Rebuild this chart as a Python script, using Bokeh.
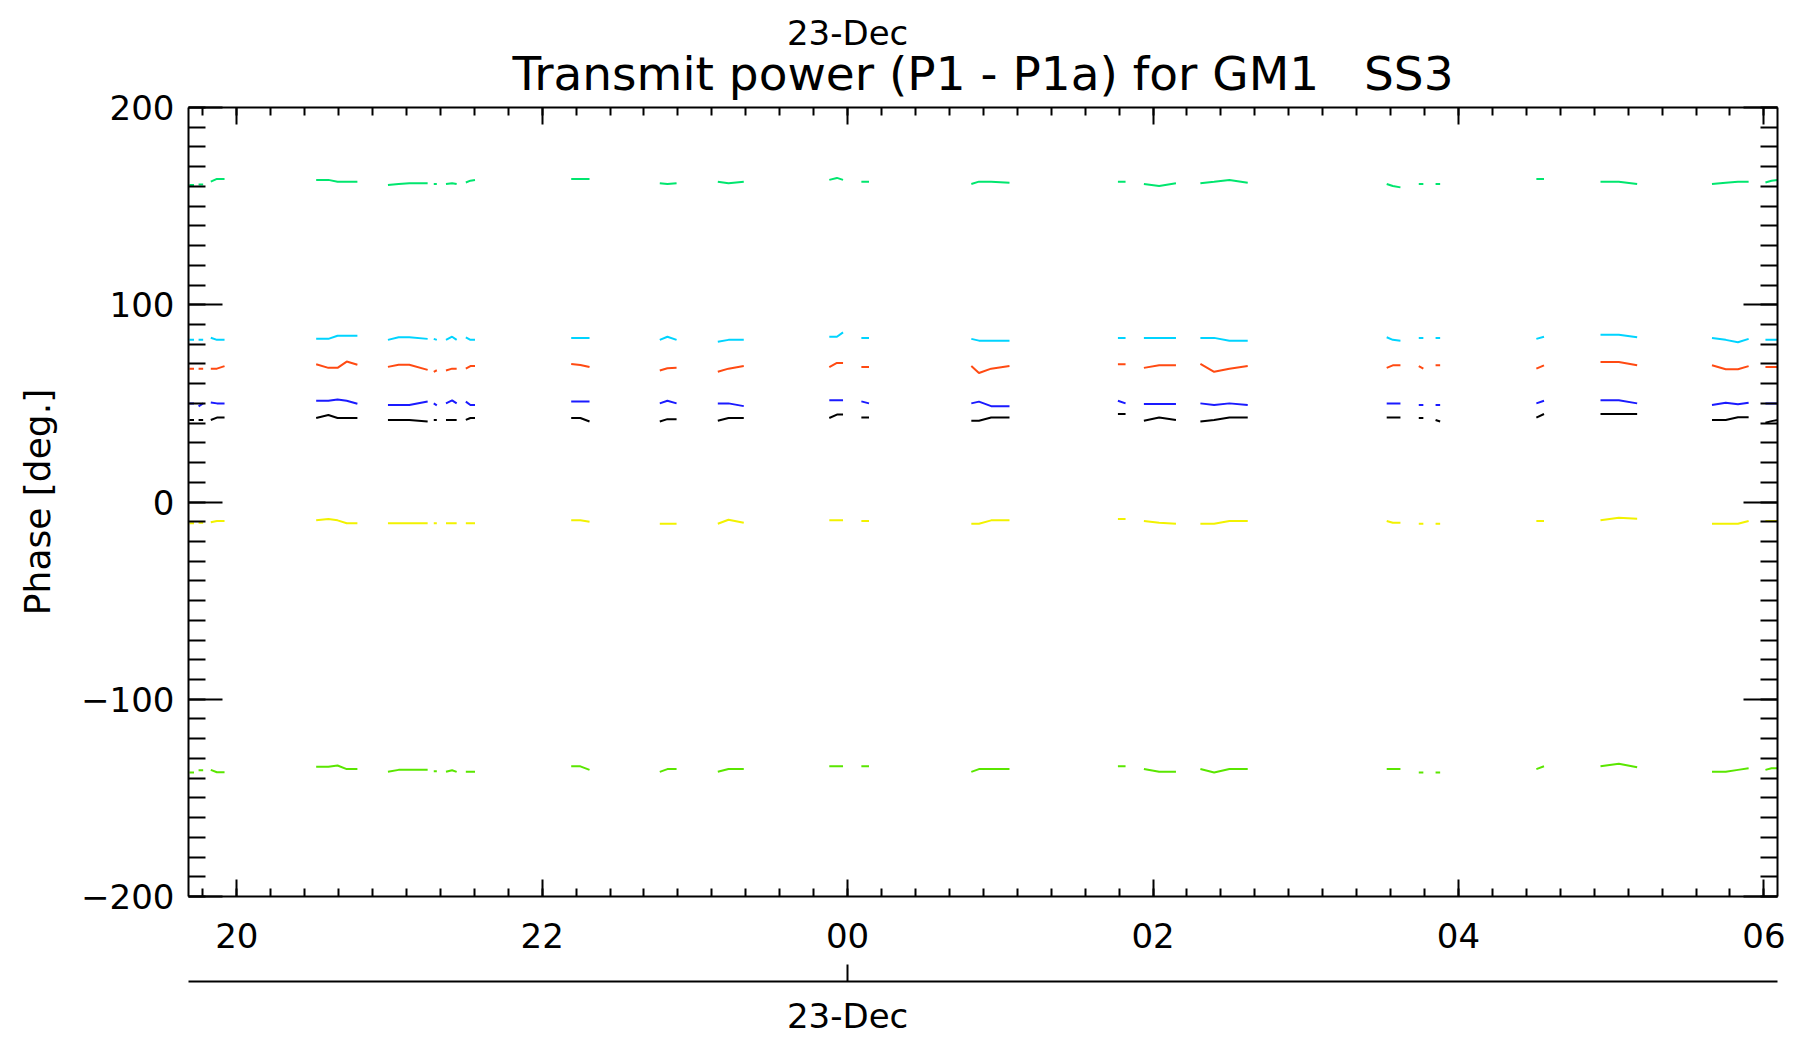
import numpy as np
from bokeh.plotting import figure
from bokeh.models import LinearAxis, FixedTicker, Range1d, Title
from bokeh.embed import file_html
from bokeh.resources import INLINE

FONT = "DejaVu Sans"

# ---------------- data (hours since 22-Dec 00:00; 24 = 00:00 23-Dec) ----------------
segment_times = [
    [19.69, 19.72], [19.75, 19.78], [19.83, 19.87, 19.92],
    [20.52, 20.60, 20.66, 20.72, 20.79],
    [20.99, 21.06, 21.13, 21.25], [21.29, 21.31], [21.37, 21.41, 21.44], [21.50, 21.53, 21.56],
    [22.19, 22.25, 22.31],
    [22.77, 22.82, 22.88],
    [23.15, 23.22, 23.32],
    [23.88, 23.93, 23.97], [24.09, 24.14],
    [24.81, 24.86, 24.94, 25.06],
    [25.77, 25.82], [25.94, 26.04, 26.15], [26.31, 26.40, 26.50, 26.62],
    [27.53, 27.57, 27.62], [27.74, 27.77], [27.85, 27.88],
    [28.51, 28.56],
    [28.93, 29.05, 29.17],
    [29.66, 29.75, 29.83, 29.90], [30.01, 30.05, 30.09],
]

green_hi = [
    [160.7, 160.7], [161.0, 161.0], [162.4, 163.8, 163.8],
    [163.3, 163.3, 162.4, 162.4, 162.4],
    [160.7, 161.2, 161.6, 161.6], [161.2, 161.2], [161.2, 161.6, 161.2], [162.0, 162.9, 163.3],
    [163.8, 163.8, 163.8],
    [161.6, 161.2, 161.6],
    [162.4, 161.6, 162.4],
    [163.3, 164.3, 163.3], [162.4, 162.4],
    [161.2, 162.4, 162.4, 161.9],
    [162.4, 162.4], [161.2, 160.2, 161.6], [161.6, 162.4, 163.3, 161.9],
    [161.2, 160.2, 159.5], [161.2, 161.2], [161.2, 161.2],
    [163.8, 163.8],
    [162.4, 162.4, 161.2],
    [161.2, 161.9, 162.4, 162.4], [162.0, 162.9, 163.3],
]

cyan = [
    [82.2, 82.2], [82.2, 82.2], [83.3, 82.2, 82.2],
    [82.7, 82.7, 84.3, 84.3, 84.3],
    [82.2, 83.5, 83.5, 82.7], [82.7, 82.2], [82.2, 83.8, 82.2], [83.5, 82.2, 82.2],
    [83.2, 83.2, 83.2],
    [82.2, 83.8, 82.2],
    [81.2, 82.2, 82.2],
    [83.8, 83.8, 86.0], [83.2, 83.2],
    [82.7, 81.8, 81.8, 81.8],
    [83.2, 83.2], [83.2, 83.2, 83.2], [83.2, 83.2, 81.8, 81.8],
    [83.5, 82.2, 81.8], [83.2, 83.2], [83.2, 83.2],
    [82.7, 83.8],
    [84.8, 84.8, 83.5],
    [83.2, 82.2, 81.0, 82.7], [82.2, 82.2, 82.2],
]

orange = [
    [67.6, 67.6], [67.6, 67.6], [67.6, 67.6, 68.9],
    [69.8, 68.0, 68.0, 71.2, 69.6],
    [68.5, 69.6, 69.6, 67.0], [66.0, 66.8], [66.7, 67.6, 67.6], [67.6, 68.9, 68.9],
    [70.0, 69.5, 68.4],
    [66.7, 67.8, 68.0],
    [66.0, 67.6, 68.9],
    [68.4, 70.5, 70.5], [68.4, 68.4],
    [68.9, 65.4, 67.6, 68.9],
    [69.8, 69.8], [68.0, 69.3, 69.3], [70.0, 66.0, 67.6, 68.9],
    [68.0, 69.3, 69.3], [68.9, 67.6], [69.3, 69.3],
    [67.6, 69.3],
    [71.0, 71.0, 69.3],
    [69.3, 67.3, 67.3, 68.9], [68.4, 68.4, 68.4],
]

blue = [
    [50.0, 50.0], [48.5, 50.0], [50.5, 50.0, 50.0],
    [51.3, 51.3, 52.0, 51.3, 49.8],
    [49.2, 49.2, 49.2, 50.9], [50.0, 49.0], [50.0, 51.5, 50.0], [50.9, 49.2, 49.2],
    [50.9, 50.9, 50.9],
    [50.0, 51.3, 50.0],
    [50.0, 50.0, 48.6],
    [51.6, 51.6, 51.6], [51.0, 50.0],
    [50.0, 50.9, 48.6, 48.6],
    [51.3, 50.0], [49.7, 49.7, 49.7], [50.0, 49.2, 50.0, 49.2],
    [50.0, 50.0, 50.0], [49.2, 49.2], [49.2, 49.2],
    [50.0, 51.3],
    [51.6, 51.6, 50.0],
    [49.2, 50.3, 49.5, 50.3], [50.0, 50.0, 50.0],
]

black = [
    [41.6, 41.6], [41.6, 41.6], [41.6, 42.8, 42.8],
    [42.6, 44.1, 42.6, 42.6, 42.6],
    [41.6, 41.6, 41.6, 40.8], [41.6, 41.6], [41.6, 41.6, 41.6], [41.6, 42.6, 42.6],
    [42.6, 42.6, 40.8],
    [40.8, 42.0, 42.0],
    [41.2, 42.6, 42.6],
    [42.6, 44.3, 44.3], [42.8, 42.8],
    [41.2, 41.2, 42.8, 42.8],
    [44.6, 44.6], [41.2, 42.8, 41.6], [40.8, 41.6, 42.8, 42.8],
    [42.8, 42.8, 42.8], [42.6, 42.6], [41.6, 40.8],
    [42.8, 44.6],
    [44.6, 44.6, 44.6],
    [41.6, 41.6, 43.0, 43.0], [40.2, 41.0, 41.6],
]

yellow = [
    [-10.8, -10.8], [-10.5, -10.5], [-10.3, -9.6, -9.6],
    [-9.3, -8.6, -9.3, -10.8, -10.8],
    [-10.8, -10.8, -10.8, -10.8], [-10.8, -10.8], [-10.8, -10.8, -10.8], [-10.8, -10.8, -10.8],
    [-9.3, -9.3, -10.0],
    [-11.0, -11.0, -11.0],
    [-11.0, -9.0, -10.5],
    [-9.3, -9.3, -9.3], [-9.6, -9.6],
    [-11.0, -11.0, -9.3, -9.3],
    [-8.6, -8.6], [-9.6, -10.5, -11.0], [-11.0, -11.0, -9.6, -9.6],
    [-9.6, -10.5, -10.5], [-11.0, -11.0], [-11.0, -11.0],
    [-9.6, -9.6],
    [-9.3, -8.0, -8.5],
    [-11.0, -11.0, -11.0, -9.6], [-9.6, -9.6, -9.6],
]

green_lo = [
    [-137.1, -137.1], [-136.0, -136.0], [-135.8, -137.0, -137.0],
    [-134.2, -134.2, -133.6, -135.4, -135.4],
    [-136.8, -135.8, -135.8, -135.8], [-136.5, -136.5], [-136.8, -136.0, -136.8], [-136.8, -136.8, -136.8],
    [-134.0, -134.0, -135.8],
    [-136.8, -135.4, -135.4],
    [-136.8, -135.4, -135.4],
    [-134.0, -134.0, -134.0], [-134.0, -134.0],
    [-136.8, -135.4, -135.4, -135.4],
    [-134.0, -134.0], [-135.4, -136.8, -136.8], [-135.4, -137.1, -135.4, -135.4],
    [-135.4, -135.4, -135.4], [-137.1, -137.1], [-137.1, -137.1],
    [-135.4, -134.0],
    [-134.0, -132.7, -134.5],
    [-136.8, -136.8, -135.8, -135.0], [-135.8, -135.0, -135.0],
]

hour_ticks = [20, 22, 24, 26, 28, 30]
hour_labels = ["20", "22", "00", "02", "04", "06"]
date_tick = [24]
date_label = ["23-Dec"]
phase_ticks = [-200, -100, 0, 100, 200]
phase_labels = ["\u2212200", "\u2212100", "0", "100", "200"]

title_text = "Transmit power (P1 - P1a) for GM1 \u00a0 SS3"
y_label = "Phase [deg.]"

series = [
    (green_hi, "#00e66e"),
    (cyan, "#00d4ff"),
    (orange, "#ff4a12"),
    (blue, "#1a1aff"),
    (black, "#000000"),
    (yellow, "#f2f200"),
    (green_lo, "#5ae600"),
]


def join(segs):
    out = []
    for i, s in enumerate(segs):
        if i:
            out.append(np.nan)
        out.extend(s)
    return np.array(out, dtype=float)


x_all = join(segment_times)

p = figure(width=1788, height=1038,
           x_range=Range1d(19.684, 30.089), y_range=Range1d(-200, 200),
           output_backend="svg", toolbar_location=None,
           x_axis_location=None, y_axis_location=None, title_location=None,
           min_border_left=188, min_border_right=11, min_border_top=107, min_border_bottom=137,
           outline_line_color=None, background_fill_color="white", border_fill_color="white")
p.grid.visible = False

for vals, col in series:
    p.line(x_all, join(vals), line_color=col, line_width=2)


def style(ax, major_in, minor_in, size="34px"):
    ax.axis_line_width = 2
    ax.axis_line_color = "black"
    ax.major_tick_line_width = 2
    ax.minor_tick_line_width = 2
    ax.major_tick_line_color = "black"
    ax.minor_tick_line_color = "black"
    ax.major_tick_in = major_in
    ax.major_tick_out = 0
    ax.minor_tick_in = minor_in
    ax.minor_tick_out = 0
    ax.major_label_text_font = FONT
    ax.major_label_text_font_size = size
    ax.major_label_text_color = "black"


def hide_labels(ax):
    ax.major_label_text_font_size = "1px"
    ax.major_label_text_color = None
    ax.major_label_standoff = 0


minor_x = list(20 + np.arange(-1, 46) * 2.0 / 9.0)
xt = FixedTicker(ticks=hour_ticks, minor_ticks=minor_x)
yt = FixedTicker(ticks=phase_ticks, minor_ticks=list(range(-200, 201, 10)))

# bottom hour axis
xb = LinearAxis(ticker=xt, major_label_overrides=dict(zip(hour_ticks, hour_labels)),
                major_label_standoff=26)
style(xb, 17, 8)
p.add_layout(xb, "below")

# blank spacer between the two bottom axis levels (white tick on white, at the empty left edge)
sp = LinearAxis(ticker=FixedTicker(ticks=[19.70], minor_ticks=[]))
style(sp, 0, 0)
hide_labels(sp)
sp.axis_line_color = None
sp.minor_tick_line_color = None
sp.major_tick_line_color = "white"
sp.major_tick_line_width = 1
sp.major_tick_out = 31
p.add_layout(sp, "below")

# bottom date axis (second level)
xd = LinearAxis(ticker=FixedTicker(ticks=date_tick, minor_ticks=[]),
                major_label_overrides=dict(zip(date_tick, date_label)),
                major_label_standoff=14)
style(xd, 17, 0)
xd.minor_tick_line_color = None
p.add_layout(xd, "below")

# top mirrored ticks
xtop = LinearAxis(ticker=xt)
style(xtop, 17, 8)
hide_labels(xtop)
p.add_layout(xtop, "above")

# main title
p.add_layout(Title(text=title_text, align="center", text_font=FONT, text_font_size="47px",
                   text_font_style="normal", text_color="black", standoff=14), "above")

# top date label
xdt = LinearAxis(ticker=FixedTicker(ticks=date_tick, minor_ticks=[]),
                 major_label_overrides=dict(zip(date_tick, date_label)),
                 major_label_standoff=-16)
style(xdt, 0, 0)
xdt.axis_line_color = None
xdt.major_tick_line_color = None
xdt.minor_tick_line_color = None
p.add_layout(xdt, "above")

# left axis
yl = LinearAxis(ticker=yt, major_label_overrides=dict(zip(phase_ticks, phase_labels)),
                major_label_standoff=14, axis_label=y_label,
                axis_label_text_font=FONT, axis_label_text_font_size="36px",
                axis_label_text_font_style="normal", axis_label_text_color="black",
                axis_label_standoff=20)
style(yl, 34, 17)
p.add_layout(yl, "left")

# right mirrored ticks
yr = LinearAxis(ticker=yt)
style(yr, 34, 17)
hide_labels(yr)
p.add_layout(yr, "right")

open("out.html", "w").write(file_html(p, INLINE))
